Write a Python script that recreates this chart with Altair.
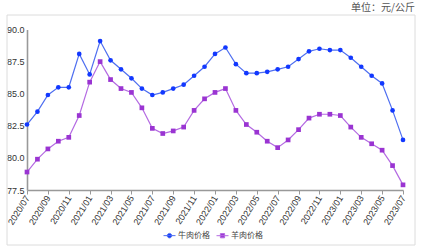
import altair as alt
import pandas as pd

months = [
    "2020/07", "2020/08", "2020/09", "2020/10", "2020/11", "2020/12",
    "2021/01", "2021/02", "2021/03", "2021/04", "2021/05", "2021/06",
    "2021/07", "2021/08", "2021/09", "2021/10", "2021/11", "2021/12",
    "2022/01", "2022/02", "2022/03", "2022/04", "2022/05", "2022/06",
    "2022/07", "2022/08", "2022/09", "2022/10", "2022/11", "2022/12",
    "2023/01", "2023/02", "2023/03", "2023/04", "2023/05", "2023/06",
    "2023/07",
]
beef = [82.6, 83.6, 84.9, 85.5, 85.5, 88.1, 86.5, 89.1, 87.6, 86.9, 86.2, 85.4,
        84.9, 85.1, 85.4, 85.7, 86.4, 87.1, 88.1, 88.6, 87.3, 86.6, 86.6, 86.7,
        86.9, 87.1, 87.7, 88.3, 88.5, 88.4, 88.4, 87.8, 87.1, 86.4, 85.8, 83.7,
        81.4]
mutton = [78.9, 79.9, 80.7, 81.3, 81.6, 83.3, 85.9, 87.5, 86.1, 85.4, 85.1, 83.9,
          82.3, 81.9, 82.1, 82.4, 83.7, 84.6, 85.1, 85.4, 83.7, 82.6, 82.0, 81.3,
          80.8, 81.4, 82.2, 83.1, 83.4, 83.4, 83.3, 82.4, 81.6, 81.1, 80.6, 79.4,
          77.9]
series_names = ["牛肉价格", "羊肉价格"]
tick_months = months[::2]
y_ticks = [77.5, 80.0, 82.5, 85.0, 87.5, 90.0]

line_colors = ["#4f6ff0", "#b46ae2"]
point_colors = ["#1238ff", "#9a34d2"]
legend_shapes = [
    "M-1.2,0H1.2M0.45,0A0.45,0.45 0 1,1 -0.45,0A0.45,0.45 0 1,1 0.45,0Z",
    "M-1.2,0H1.2M-0.42,-0.42H0.42V0.42H-0.42Z",
]

df = pd.concat([
    pd.DataFrame({"month": months, "price": beef, "series": series_names[0]}),
    pd.DataFrame({"month": months, "price": mutton, "series": series_names[1]}),
])

W, H = 376, 160.5
LEFT, TOP = 27, 29.5

x_enc = alt.X(
    "month:O", sort=months, title=None,
    scale=alt.Scale(type="point", padding=0),
    axis=alt.Axis(values=tick_months, labelAngle=302, labelAlign="right",
                  labelBaseline="middle", labelFontSize=9, labelColor="#333",
                  labelFont="Liberation Sans", tickSize=4, tickColor="#999",
                  domainColor="#999", domainWidth=1.6, labelPadding=2, grid=False),
)
y_enc = alt.Y(
    "price:Q", title=None,
    scale=alt.Scale(domain=[77.5, 90.0], nice=False, zero=False),
    axis=alt.Axis(values=y_ticks, format=".1f", ticks=False, labelFontSize=9,
                  labelColor="#333", labelFont="Liberation Sans",
                  domainColor="#999", domainWidth=1.6, labelPadding=3, grid=False),
)

base = alt.Chart(df)

frame = alt.Chart(pd.DataFrame({"a": [0]})).mark_rect(
    fill="transparent", stroke="#dcdcdc", strokeWidth=1
).encode(x=alt.value(7 - LEFT), x2=alt.value(415 - LEFT),
         y=alt.value(15 - TOP), y2=alt.value(245 - TOP))

unit = alt.Chart(pd.DataFrame({"t": ["单位：元/公斤"]})).mark_text(
    align="right", baseline="middle", fontSize=10, color="#555",
    font="Noto Sans CJK SC"
).encode(text="t:N", x=alt.value(415 - LEFT), y=alt.value(8 - TOP))

lines = base.mark_line(strokeWidth=1.2).encode(
    x=x_enc, y=y_enc,
    stroke=alt.Stroke("series:N", scale=alt.Scale(domain=series_names, range=line_colors),
                      legend=None),
)
points = base.mark_point(filled=True, size=22, opacity=1).encode(
    x=x_enc, y=y_enc,
    fill=alt.Fill("series:N", scale=alt.Scale(domain=series_names, range=point_colors),
                  legend=None),
    shape=alt.Shape("series:N", scale=alt.Scale(domain=series_names, range=["circle", "square"]),
                    legend=None),
)
legend_proxy = base.mark_point(filled=True, strokeWidth=1, opacity=1, clip=True).encode(
    x=alt.value(-60), y=alt.value(-60),
    fill=alt.Fill("series:N", scale=alt.Scale(domain=series_names, range=point_colors),
                  legend=alt.Legend(title=None)),
    stroke=alt.Stroke("series:N", scale=alt.Scale(domain=series_names, range=line_colors),
                      legend=alt.Legend(title=None)),
    shape=alt.Shape("series:N", scale=alt.Scale(domain=series_names, range=legend_shapes),
                    legend=alt.Legend(title=None)),
)

chart = alt.layer(frame, unit, lines, points, legend_proxy).resolve_scale(
    fill="independent", stroke="independent", shape="independent"
).properties(
    width=W, height=H,
    autosize=alt.AutoSizeParams(type="none"),
    padding={"left": LEFT, "top": TOP, "right": 424 - LEFT - W, "bottom": 250 - TOP - H},
).configure_view(stroke=None).configure_legend(
    orient="none", legendX=164 - LEFT, legendY=230 - TOP, direction="horizontal",
    labelFont="Noto Sans CJK SC", labelFontSize=8, labelColor="#444",
    symbolSize=100, symbolStrokeWidth=1, columnPadding=4, labelOffset=3, padding=0,
)

chart.save("out.html", embed_options={"renderer": "svg", "actions": False})
